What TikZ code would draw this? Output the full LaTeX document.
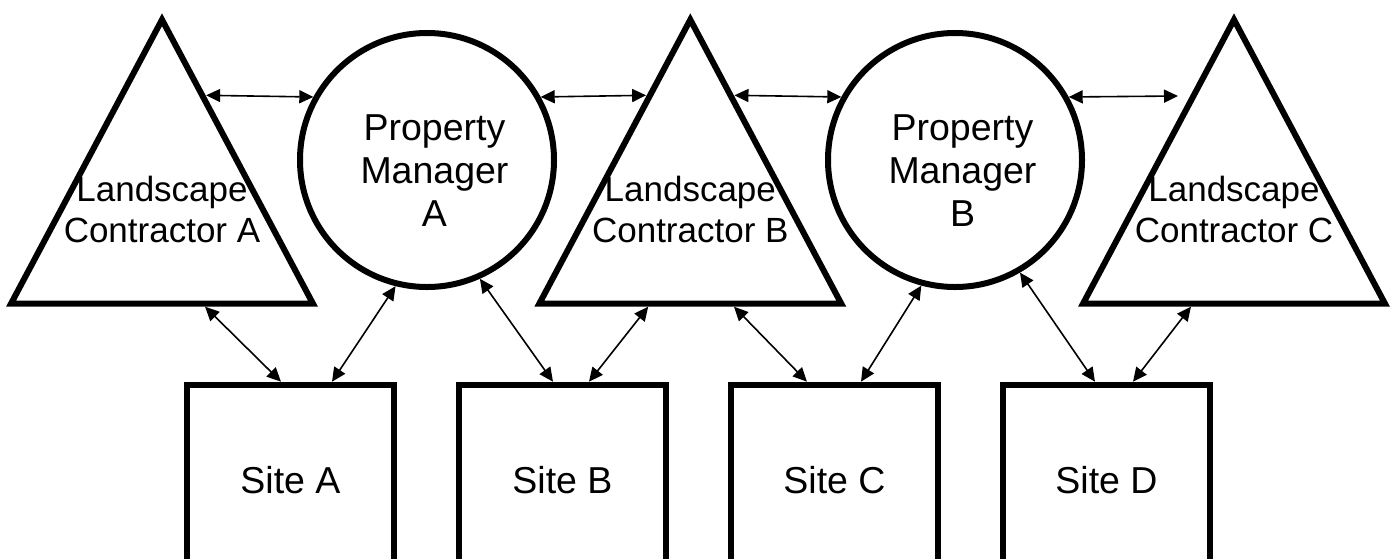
\documentclass[tikz,border=0pt]{standalone}
\usepackage{fontspec}
\setmainfont{Liberation Sans}
\usetikzlibrary{shapes.geometric,arrows.meta,calc}
\begin{document}
\begin{tikzpicture}[x=1pt, y=-1pt, >={Triangle[length=14pt, width=13pt]}]
  \useasboundingbox (0, 0) rectangle (1398, 558);
  \fill [white] (0, 0) rectangle (1398, 558);  % Hintergrund.
  \tikzstyle{tri}=[isosceles triangle, isosceles triangle stretches, shape border rotate=90,
    draw, line width=6pt, minimum width=302pt, minimum height=284pt, inner sep=0pt]
  \tikzstyle{pm}=[circle, draw, line width=6pt, minimum size=254pt, inner sep=0pt]
  \tikzstyle{site}=[rectangle, draw, line width=6pt, minimum width=207pt, minimum height=190.6pt,
    font=\fontsize{37.5}{43}\selectfont]
  \tikzstyle{tritext}=[align=center, inner sep=0pt, font=\fontsize{35}{41}\selectfont]
  \tikzstyle{pmtext}=[align=center, inner sep=0pt, xshift=7.5pt, yshift=-11pt,
    font=\fontsize{37.5}{43}\selectfont]
  \tikzstyle{link}=[<->, line width=1.6pt]

  \node[tri, anchor=lower side] (lca) at (162, 306.7)  {};
  \node[tri, anchor=lower side] (lcb) at (690.3, 306.7) {};
  \node[tri, anchor=lower side] (lcc) at (1234, 306.7) {};
  \node[tritext, anchor=south] (lca-text) at ([yshift=63.5pt]lca.lower side) {Landscape\\Contractor A};
  \node[tritext, anchor=south] (lcb-text) at ([yshift=63.5pt]lcb.lower side) {Landscape\\Contractor B};
  \node[tritext, anchor=south] (lcc-text) at ([yshift=63.5pt]lcc.lower side) {Landscape\\Contractor C};

  \node[pm, label={[pmtext]center:{Property\\Manager\\A}}] (pma) at (427, 160) {};
  \node[pm, label={[pmtext]center:{Property\\Manager\\B}}] (pmb) at (955, 160) {};

  \node[site] (sa) at (290.5, 480)  {Site A};
  \node[site] (sb) at (562.5, 480)  {Site B};
  \node[site] (sc) at (834.5, 480)  {Site C};
  \node[site] (sd) at (1106.5, 480) {Site D};

  \coordinate (lcc-gap) at (1178, 96);

  \path ($(lca.apex)!0.283!(lca.right corner)$) edge[link] (pma.151);
  \path (pma.29) edge[link] ($(lcb.apex)!0.283!(lcb.left corner)$);
  \path ($(lcb.apex)!0.283!(lcb.right corner)$) edge[link] (pmb.151);
  \path (pmb.29.5) edge[link] (lcc-gap);

  \path ($(lca.left corner)!0.638!(lca.right corner)$) edge[link] ([xshift=-9.5pt]sa.north);
  \path (pma.256) edge[link] ([xshift=41.5pt]sa.north);
  \path (pma.294) edge[link] ([xshift=-9.5pt]sb.north);
  \path ($(lcb.left corner)!0.365!(lcb.right corner)$) edge[link] ([xshift=26.5pt]sb.north);
  \path ($(lcb.left corner)!0.64!(lcb.right corner)$) edge[link] ([xshift=-27.5pt]sc.north);
  \path (pmb.255) edge[link] ([xshift=26.5pt]sc.north);
  \path (pmb.300) edge[link] ([xshift=-11.5pt]sd.north);
  \path ($(lcc.left corner)!0.362!(lcc.right corner)$) edge[link] ([xshift=26.5pt]sd.north);
\end{tikzpicture}
\end{document}
